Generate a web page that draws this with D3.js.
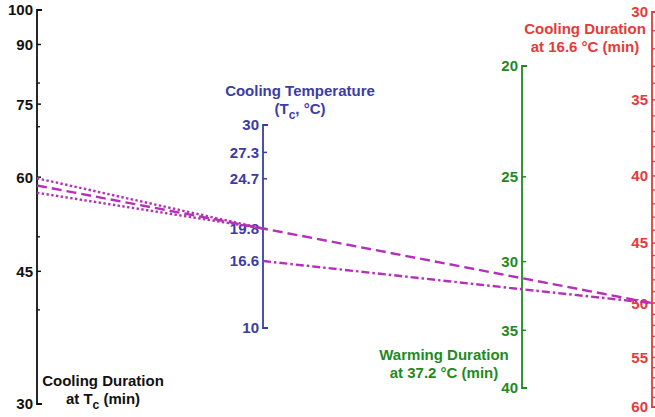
<!DOCTYPE html>
<html>
<head>
<meta charset="utf-8">
<script src="https://cdn.jsdelivr.net/npm/d3@7"></script>
<style>
  body { margin: 0; background: #fff; }
  svg { display: block; font-family: "Liberation Sans", Arial, sans-serif; font-weight: bold; }
</style>
</head>
<body>
<div id="chart"></div>
<script>
// tick values for the four nomogram scales
const durTicks = [100, 90, 75, 60, 45, 30];
const durMinor = [80, 70, 50, 40];
const tcTicks = [30, 27.3, 24.7, 19.8, 16.6, 10];
const warmTicks = [20, 25, 30, 35, 40];
const redTicks = [30, 35, 40, 45, 50, 55, 60];
const redMinor = d3.range(31, 60).filter(v => v % 5 !== 0);

// isopleths: [axis, value] pairs the line passes through
const dashedLine = [["dur", 58.5], ["tc", 19.8], ["red", 50]];
const dottedUpper = [["dur", 59.8], ["tc", 19.8]];
const dottedLower = [["dur", 57.2], ["tc", 19.8]];
const dashDotLine = [["tc", 16.6], ["warm", 31.9], ["red", 50]];

const W = 655, H = 417;
const BLACK = "#111111", BLUE = "#3a3da6", GREEN = "#1f8a23", RED = "#e63a3a", MAG = "#b52fb8";
const FS = 15;

const svg = d3.select("#chart").append("svg")
    .attr("width", W)
    .attr("height", H);

// x position of each scale
const axisX = {dur: 37, tc: 263, warm: 522, red: 652};

// y scales
const yDur = d3.scaleLog().domain([100, 30]).range([10, 404]);
const yTc = d3.scaleLinear().domain([30, 10]).range([125, 328]);
const warmOffset = 6;   // warming scale is logarithmic in (t - 6)
const yWarmLog = d3.scaleLog().domain([20 - warmOffset, 40 - warmOffset]).range([66, 388]);
const yWarm = v => yWarmLog(v - warmOffset);
const yRed = d3.scaleLog().domain([30, 60]).range([12, 407]);

const yScale = {dur: yDur, tc: yTc, warm: yWarm, red: yRed};

function drawAxis(key, domain, majors, minors, color) {
    const x = axisX[key], y = yScale[key];
    const g = svg.append("g").attr("transform", "translate(" + x + ",0)");
    // spine with end caps pointing right
    g.append("path")
        .attr("fill", "none")
        .attr("stroke", color)
        .attr("stroke-width", 1.8)
        .attr("d", "M5," + y(domain[0]) + "H0V" + y(domain[1]) + "H5");
    g.selectAll("line.major")
        .data(majors)
        .enter().append("line")
        .attr("class", "major")
        .attr("x1", 0).attr("x2", 4)
        .attr("y1", d => y(d)).attr("y2", d => y(d))
        .attr("stroke", color)
        .attr("stroke-width", 1.5);
    g.selectAll("line.minor")
        .data(minors)
        .enter().append("line")
        .attr("class", "minor")
        .attr("x1", 0).attr("x2", 3)
        .attr("y1", d => y(d)).attr("y2", d => y(d))
        .attr("stroke", color)
        .attr("stroke-width", 1.3);
    g.selectAll("text")
        .data(majors)
        .enter().append("text")
        .attr("x", -4)
        .attr("y", d => y(d))
        .attr("dy", "0.36em")
        .attr("text-anchor", "end")
        .attr("font-size", FS)
        .attr("fill", color)
        .text(d => d);
}

drawAxis("dur", [100, 30], durTicks, durMinor, BLACK);
drawAxis("tc", [30, 10], tcTicks, [], BLUE);
drawAxis("warm", [20, 40], warmTicks, [], GREEN);
drawAxis("red", [30, 60], redTicks, redMinor, RED);

// isopleth lines
const line = d3.line()
    .x(d => axisX[d[0]])
    .y(d => yScale[d[0]](d[1]));

function drawIso(data, dash) {
    svg.append("path")
        .datum(data)
        .attr("fill", "none")
        .attr("stroke", MAG)
        .attr("stroke-width", 2.4)
        .attr("stroke-dasharray", dash)
        .attr("d", line);
}
drawIso(dottedUpper, "2.4,2.4");
drawIso(dottedLower, "2.4,2.4");
drawIso(dashedLine, "10,5");
drawIso(dashDotLine, "8,3,2.5,3");

// titles
function title(lines, x, y, color) {
    const t = svg.append("text")
        .attr("x", x)
        .attr("y", y)
        .attr("text-anchor", "middle")
        .attr("font-size", FS)
        .attr("fill", color);
    lines.forEach((ln, i) => {
        const ts = t.append("tspan").attr("x", x).attr("dy", i === 0 ? 0 : 18);
        ln.forEach(part => {
            if (part.sub) {
                ts.append("tspan").attr("font-size", 12).attr("dy", 5).text(part.sub);
                ts.append("tspan").attr("dy", -5).text(part.after);
            } else {
                ts.append("tspan").text(part.text);
            }
        });
    });
}

title([[{text: "Cooling Duration"}], [{text: "at T"}, {sub: "c", after: " (min)"}]], 103, 386, BLACK);
title([[{text: "Cooling Temperature"}], [{text: "(T"}, {sub: "c", after: ", \u00B0C)"}]], 300, 96, BLUE);
title([[{text: "Cooling Duration"}], [{text: "at 16.6 \u00B0C (min)"}]], 585, 34, RED);
title([[{text: "Warming Duration"}], [{text: "at 37.2 \u00B0C (min)"}]], 444, 360, GREEN);
</script>
</body>
</html>
